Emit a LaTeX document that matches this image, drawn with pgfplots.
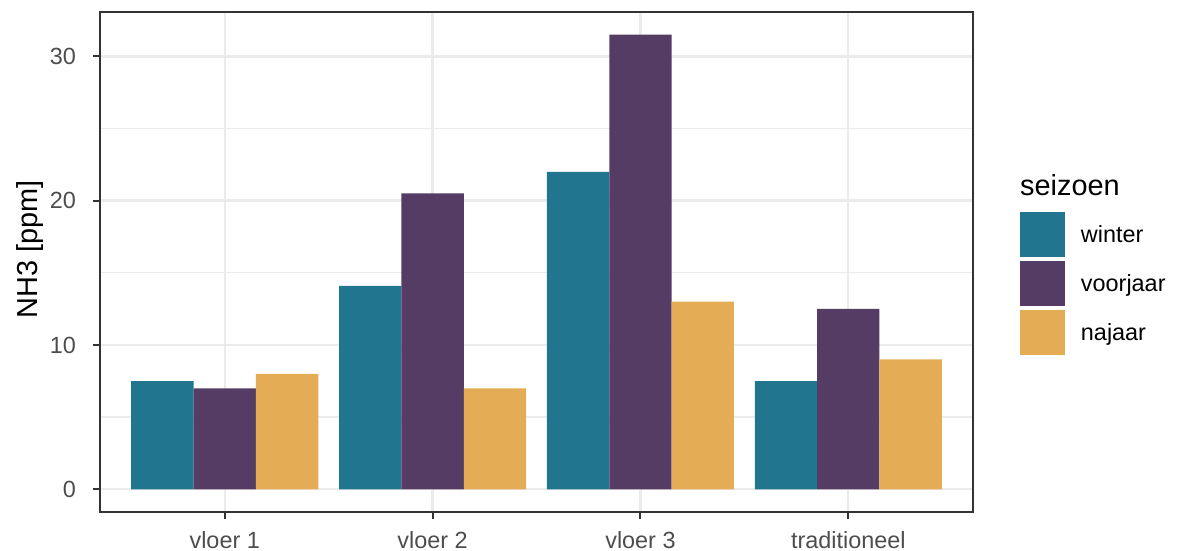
\documentclass[border=0pt]{standalone}
\usepackage{fontspec}
\setmainfont{Liberation Sans}
\usepackage{pgfplots}
\pgfplotsset{compat=1.18}
\definecolor{cwinter}{HTML}{22758F}
\definecolor{cvoorjaar}{HTML}{553C65}
\definecolor{cnajaar}{HTML}{E3AC55}
\definecolor{gridc}{HTML}{EBEBEB}
\definecolor{borderc}{HTML}{333333}
\definecolor{tickc}{HTML}{4D4D4D}
\begin{document}
\begin{tikzpicture}
\useasboundingbox (0,0) rectangle (1183bp,551bp);
\begin{axis}[
  at={(100bp,39bp)}, anchor=south west,
  scale only axis, width=873bp, height=500bp,
  xmin=-0.6, xmax=3.6, ymin=-1.575, ymax=33.075,
  clip=false,
  ybar, bar width=0.3,
  xtick={0,1,2,3}, xticklabels={vloer 1, vloer 2, vloer 3, traditioneel},
  ytick={0,10,20,30}, minor ytick={5,15,25},
  /pgf/number format/assume math mode=true,
  xmajorgrids, ymajorgrids, yminorgrids,
  major grid style={gridc, line width=2.4bp},
  minor grid style={gridc, line width=1.3bp},
  axis line style={borderc, line width=2bp},
  tick align=outside, major tick length=7bp, minor tick length=0pt,
  tick style={borderc, line width=2bp},
  xtick pos=left, ytick pos=left,
  ticklabel style={font=\fontsize{23.5}{28}\selectfont, text=tickc},
  yticklabel style={anchor=east, inner sep=0pt},
  xticklabel style={anchor=north, inner sep=0pt},
  yticklabel shift=17bp,
  xticklabel shift=12bp,
  ylabel={NH3 [ppm]},
  ylabel style={font=\fontsize{29}{34}\selectfont, at={(axis description cs:-0.0802,0.526)}, anchor=center},
  legend style={at={(axis description cs:1.0538,0.6)}, anchor=north west, draw=none, fill=none,
    inner sep=0pt, outer sep=0pt, row sep=4bp, column sep=16bp,
    font=\fontsize{23.5}{28}\selectfont, nodes={inner sep=0pt}},
  legend cell align=left,
  legend image code/.code={\fill[#1] (0bp,-22.5bp) rectangle (45bp,22.5bp);},
]
\addplot[fill=cwinter, draw=none, bar shift=-0.3] coordinates {(0,7.5) (1,14.1) (2,22.0) (3,7.5)};
\addlegendentry{winter}
\addplot[fill=cvoorjaar, draw=none, bar shift=0] coordinates {(0,7.0) (1,20.5) (2,31.5) (3,12.5)};
\addlegendentry{voorjaar}
\addplot[fill=cnajaar, draw=none, bar shift=0.3] coordinates {(0,8.0) (1,7.0) (2,13.0) (3,9.0)};
\addlegendentry{najaar}
\node[anchor=base west, inner sep=0pt, font=\fontsize{29}{34}\selectfont] at (axis description cs:1.0538,0.632) {seizoen};
\end{axis}
\end{tikzpicture}
\end{document}
